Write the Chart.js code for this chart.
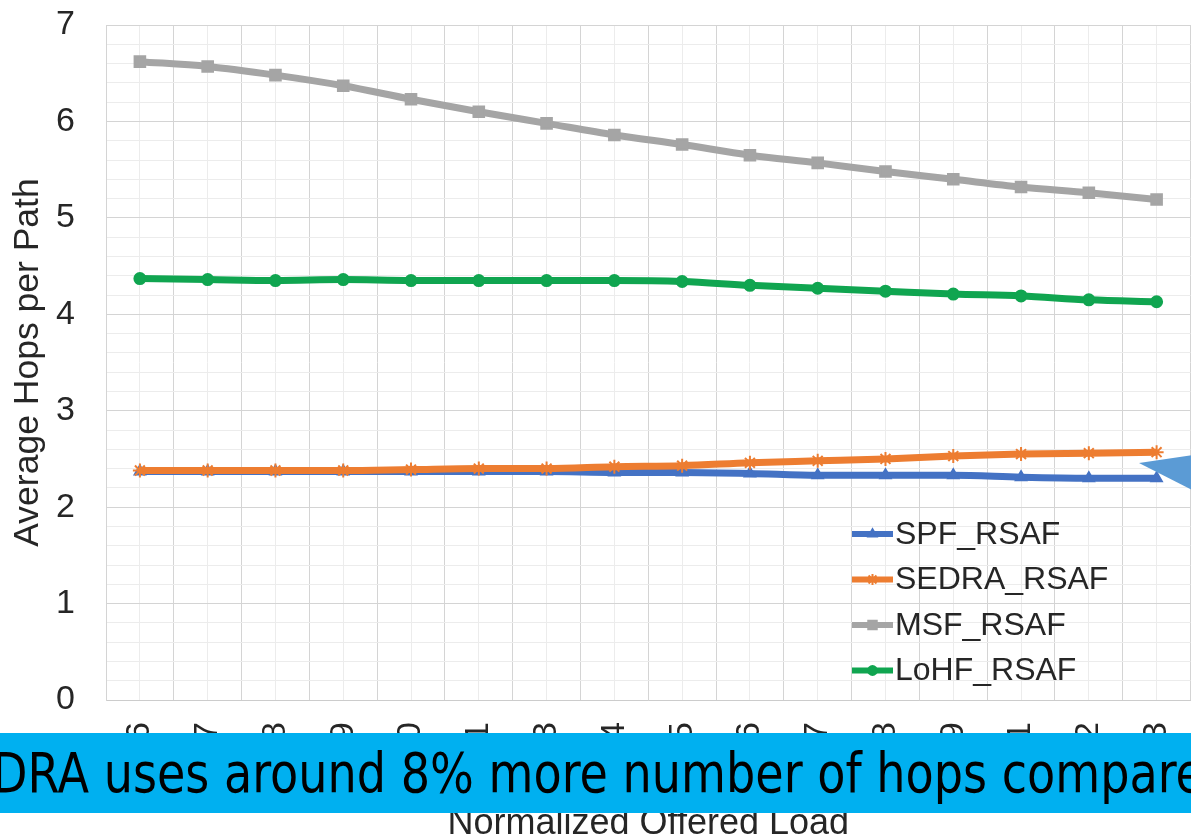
<!DOCTYPE html>
<html>
<head>
<meta charset="utf-8">
<script src="https://cdn.jsdelivr.net/npm/chart.js@4.4.1/dist/chart.umd.min.js"></script>
<style>
  html, body { margin: 0; padding: 0; background: #fff; overflow: hidden; width: 1191px; height: 838px; }
  #wrap { position: relative; width: 1191px; height: 838px; overflow: hidden; }
  #c { position: absolute; left: 0; top: 0; }
  #banner {
    position: absolute; left: 0; top: 733px; width: 1191px; height: 80px;
    background: #00B0F0; overflow: hidden; white-space: nowrap;
    font-family: "DejaVu Sans", sans-serif; font-stretch: condensed;
    font-size: 56px; line-height: 80px; color: #000;
  }
  #banner span { display: inline-block; position: relative; left: -8px; top: 0px; transform-origin: 0 50%; }
</style>
</head>
<body>
<div id="wrap">
  <canvas id="c" width="1200" height="838"></canvas>
  <div id="banner"><span id="bannerText">DRA uses around 8% more number of hops compare</span></div>
</div>
<script>
// Offered load categories (x axis)
const loadLabels = ["0.56", "0.67", "0.78", "0.89", "1.00", "1.11", "1.23", "1.34",
                    "1.45", "1.56", "1.67", "1.78", "1.89", "2.01", "2.12", "2.23"];

// Average hops per path for each scheme
const spfRsaf   = [2.37, 2.37, 2.37, 2.37, 2.37, 2.37, 2.37, 2.36, 2.36, 2.35, 2.33, 2.33, 2.33, 2.31, 2.30, 2.30];
const sedraRsaf = [2.38, 2.38, 2.38, 2.38, 2.39, 2.40, 2.40, 2.42, 2.43, 2.46, 2.48, 2.50, 2.53, 2.55, 2.56, 2.57];
const msfRsaf   = [6.62, 6.57, 6.48, 6.37, 6.23, 6.10, 5.98, 5.86, 5.76, 5.65, 5.57, 5.48, 5.40, 5.32, 5.26, 5.19];
const lohfRsaf  = [4.37, 4.36, 4.35, 4.36, 4.35, 4.35, 4.35, 4.35, 4.34, 4.30, 4.27, 4.24, 4.21, 4.19, 4.15, 4.13];

const FONT = '"Liberation Sans", Arial, sans-serif';
const TEXT = '#262626';
const GRID_MAJOR = '#d4d4d4';
const GRID_MINOR = '#ececec';
const isWhole = v => Math.abs(v - Math.round(v)) < 1e-6;
const toPoints = vals => vals.map((v, i) => ({ x: i, y: v }));

// Fit the banner sentence to the banner width
(function () {
  const span = document.getElementById('bannerText');
  const w = span.getBoundingClientRect().width;
  if (w > 0) span.style.transform = 'scaleX(' + (1212 / w) + ')';
})();

function lineSet(label, vals, color, style, radius, order) {
  return {
    label, data: toPoints(vals), order,
    borderColor: color, backgroundColor: color,
    borderWidth: 7, pointStyle: style, pointRadius: radius,
    pointBorderWidth: 2, pointBorderColor: color, pointBackgroundColor: color,
    cubicInterpolationMode: 'monotone'
  };
}

// Legend drawn inside the plot area, lower right
const insideLegend = {
  id: 'insideLegend',
  afterDatasetsDraw(chart) {
    const ctx = chart.ctx;
    const x0 = 852, x1 = 893, top = 534, gap = 45.5;
    chart.data.datasets.forEach((ds, i) => {
      const y = top + i * gap;
      ctx.save();
      ctx.strokeStyle = ds.borderColor;
      ctx.lineWidth = 6;
      ctx.beginPath(); ctx.moveTo(x0, y); ctx.lineTo(x1, y); ctx.stroke();
      ctx.fillStyle = ds.backgroundColor;
      ctx.lineWidth = 2;
      Chart.helpers.drawPoint(ctx, { pointStyle: ds.pointStyle, radius: ds.pointRadius * 0.8, borderWidth: 2 }, (x0 + x1) / 2, y);
      ctx.fillStyle = TEXT;
      ctx.font = '32px ' + FONT;
      ctx.textBaseline = 'middle';
      ctx.textAlign = 'left';
      ctx.fillText(ds.label, x1 + 2, y + 1);
      ctx.restore();
    });
  }
};

// Callout arrow head at the right edge
const calloutArrow = {
  id: 'calloutArrow',
  afterDraw(chart) {
    const ctx = chart.ctx;
    ctx.save();
    ctx.fillStyle = '#5B9BD5';
    ctx.beginPath();
    ctx.moveTo(1139, 463);
    ctx.lineTo(1200, 454);
    ctx.lineTo(1200, 494);
    ctx.closePath();
    ctx.fill();
    ctx.restore();
  }
};

new Chart(document.getElementById('c'), {
  type: 'line',
  data: {
    datasets: [
      lineSet('SPF_RSAF',   spfRsaf,   '#4472C4', 'triangle', 6,   1),
      lineSet('SEDRA_RSAF', sedraRsaf, '#ED7D31', 'star',     7,   0),
      lineSet('MSF_RSAF',   msfRsaf,   '#A5A5A5', 'rect',     7.5, 2),
      lineSet('LoHF_RSAF',  lohfRsaf,  '#10A550', 'circle',   5.5, 3)
    ]
  },
  options: {
    responsive: false,
    animation: false,
    devicePixelRatio: 1,
    layout: { padding: { top: 25, right: 1, left: 0, bottom: 0 } },
    plugins: { legend: { display: false }, tooltip: { enabled: false } },
    scales: {
      x: {
        type: 'linear', min: -0.5, max: 15.5,
        afterBuildTicks: s => {
          const t = [];
          for (let k = -1; k <= 31; k++) t.push({ value: k / 2 });
          s.ticks = t;
        },
        afterFit: s => { s.height = 138; s.paddingLeft = 0; s.paddingRight = 0; },
        ticks: {
          autoSkip: false, minRotation: 90, maxRotation: 90, padding: 22,
          color: TEXT, font: { size: 34, family: FONT },
          callback: v => isWhole(v) ? loadLabels[Math.round(v)] : ''
        },
        grid: {
          drawTicks: false, lineWidth: 1,
          color: c => (c.tick && isWhole(c.tick.value)) ? GRID_MINOR : GRID_MAJOR
        },
        border: { display: true, color: '#cccccc', width: 1 },
        title: {
          display: true, text: 'Normalized Offered Load', color: TEXT,
          font: { size: 36, family: FONT, lineHeight: 0.75 }, padding: 0
        }
      },
      y: {
        type: 'linear', min: 0, max: 7,
        afterBuildTicks: s => {
          const t = [];
          for (let k = 0; k <= 35; k++) t.push({ value: Math.round(k * 2) / 10 });
          s.ticks = t;
        },
        afterFit: s => { s.width = 106; s.paddingTop = 0; s.paddingBottom = 0; },
        ticks: {
          autoSkip: false, padding: 31,
          color: TEXT, font: { size: 34, family: FONT },
          callback: v => isWhole(v) ? String(Math.round(v)) : ''
        },
        grid: {
          drawTicks: false, lineWidth: 1,
          color: c => (c.tick && isWhole(c.tick.value)) ? GRID_MAJOR : GRID_MINOR
        },
        border: { display: true, color: GRID_MAJOR, width: 1 },
        title: {
          display: true, text: 'Average Hops per Path', color: TEXT,
          font: { size: 35.5, family: FONT }, padding: { top: 7, bottom: 0 }
        }
      }
    }
  },
  plugins: [insideLegend, calloutArrow]
});
</script>
</body>
</html>
